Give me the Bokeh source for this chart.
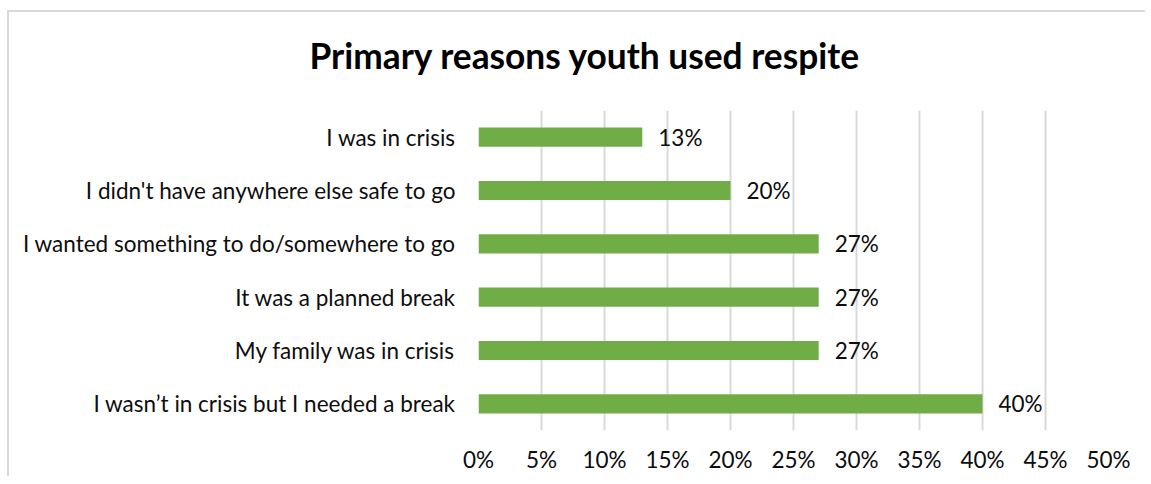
from bokeh.plotting import figure
from bokeh.models import ColumnDataSource, FactorRange, Range1d, NumeralTickFormatter, FixedTicker
from bokeh.embed import file_html
from bokeh.resources import INLINE
from bokeh.core.properties import value

categories = [
    "I wasn\u2019t in crisis but I needed a break",
    "My family was in crisis",
    "It was a planned break",
    "I wanted something to do/somewhere to go",
    "I didn't have anywhere else safe to go",
    "I was in crisis",
]
values = [0.40, 0.27, 0.27, 0.27, 0.20, 0.13]
labels = ["40%", "27%", "27%", "27%", "20%", "13%"]
ticks = [0, 0.05, 0.10, 0.15, 0.20, 0.25, 0.30, 0.35, 0.40, 0.45, 0.50]

FONT = "Lato"
FS = "22.5px"
TXT = "#0d0d0d"

src = ColumnDataSource(dict(cat=categories, val=values, lab=labels))

p = figure(
    y_range=FactorRange(*categories, range_padding=0),
    x_range=Range1d(0, 0.5),
    width=1145, height=476,
    output_backend="svg", toolbar_location=None,
    min_border_left=478, min_border_right=37, min_border_top=110, min_border_bottom=46,
)
p.background_fill_alpha = 0
p.border_fill_alpha = 0
g = "linear-gradient(#d9d9d9,#d9d9d9)"
p.styles = {
    "background": f"{g} 7px 10px / 2px calc(100% - 10px) no-repeat, {g} 7px 10px / calc(100% - 7px) 2px no-repeat, #ffffff",
}

p.hbar(y="cat", right="val", left=0, height=0.36, source=src, color="#70AD47", line_color=None)
p.text(x="val", y="cat", text="lab", source=src, x_offset=16, text_baseline="middle",
       text_font=value(FONT), text_font_size=FS, text_color=TXT)

p.outline_line_color = None
p.ygrid.grid_line_color = None
p.xgrid.grid_line_color = "#d9d9d9"
p.xgrid.grid_line_width = 2
p.xaxis.ticker = FixedTicker(ticks=ticks)
p.xaxis.formatter = NumeralTickFormatter(format="0%")
for ax in (p.xaxis[0], p.yaxis[0]):
    ax.axis_line_color = None
    ax.major_tick_line_color = None
    ax.minor_tick_line_color = None
    ax.major_tick_out = 0
    ax.major_tick_in = 0
    ax.minor_tick_out = 0
    ax.major_label_text_font = FONT
    ax.major_label_text_font_size = FS
    ax.major_label_text_color = TXT
p.xaxis.major_label_standoff = 15
p.yaxis.major_label_standoff = 23

p.title.text = "Primary reasons youth used respite"
p.title.text_font = FONT
p.title.text_font_size = "35.3px"
p.title.text_font_style = "bold"
p.title.text_color = "#000000"
p.title.align = "left"
p.title.offset = -169
p.title.vertical_align = "top"
p.title.standoff = 64

open("out.html", "w").write(file_html(p, INLINE))
